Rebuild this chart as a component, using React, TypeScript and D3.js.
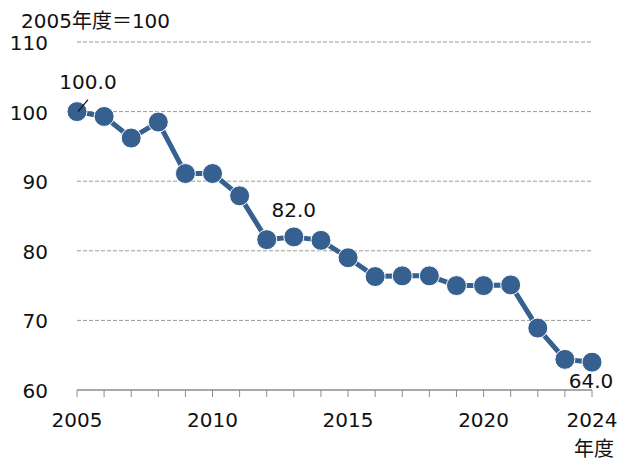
import * as d3 from 'd3'

const years = [2005, 2006, 2007, 2008, 2009, 2010, 2011, 2012, 2013, 2014, 2015, 2016, 2017, 2018, 2019, 2020, 2021, 2022, 2023, 2024]
const values = [100.0, 99.3, 96.2, 98.5, 91.1, 91.1, 87.9, 81.6, 82.0, 81.5, 79.0, 76.3, 76.4, 76.4, 75.0, 75.0, 75.1, 68.9, 64.4, 64.0]
const yTicks = [60, 70, 80, 90, 100, 110]
const xTicks = [2005, 2010, 2015, 2020, 2024]
const labelled = [2005, 2013, 2024]

const W = 619
const H = 462
const FONT = '"DejaVu Sans", Verdana, "Noto Sans CJK JP", sans-serif'
const BLUE = '#36608f'
const FS = 20

export default function App() {
  const x = d3.scaleLinear().domain([2005, 2024]).range([77, 592])
  const y = d3.scaleLinear().domain([60, 110]).range([390, 42])

  const line = d3.line<number>()
    .x((_, i) => x(years[i]))
    .y(d => y(d))

  const pts = years.map((yr, i) => ({ yr, v: values[i] }))

  return (
    <svg width={W} height={H} style={{ position: 'absolute', left: 0, top: 0 }} fontFamily={FONT}>
      <rect width={W} height={H} fill="#fff" />

      {/* gridlines */}
      {yTicks.filter(t => t > 60).map(t => (
        <line key={t} x1={x(2005)} x2={x(2024)} y1={y(t)} y2={y(t)}
          stroke="#9a9a9a" strokeWidth={1} strokeDasharray="4,2" />
      ))}

      {/* y labels */}
      {yTicks.map(t => (
        <text key={t} x={48} y={y(t) + 1} textAnchor="end" dominantBaseline="central"
          fontSize={FS} fill="#111">{t}</text>
      ))}
      <text x={21} y={28} fontSize={FS} fill="#111">2005年度＝100</text>

      {/* x axis */}
      <line x1={x(2005)} x2={x(2024)} y1={y(60)} y2={y(60)} stroke="#8c8c8c" strokeWidth={1.5} />
      {years.map(yr => (
        <line key={yr} x1={x(yr)} x2={x(yr)} y1={y(60)} y2={y(60) + 7} stroke="#8c8c8c" strokeWidth={1} />
      ))}
      {xTicks.map(t => (
        <text key={t} x={x(t)} y={427} textAnchor="middle" fontSize={FS} fill="#111">{t}</text>
      ))}
      <text x={614} y={456} textAnchor="end" fontSize={FS} fill="#111">年度</text>

      {/* series */}
      <path d={line(values) ?? ''} fill="none" stroke={BLUE} strokeWidth={5} strokeLinejoin="round" />
      {pts.map(p => (
        <circle key={p.yr} cx={x(p.yr)} cy={y(p.v)} r={10} fill={BLUE} stroke="#fff" strokeWidth={1} />
      ))}

      {/* value labels */}
      {pts.filter(p => labelled.includes(p.yr)).map(p => {
        if (p.yr === 2005) {
          return (
            <g key={p.yr}>
              <line x1={x(p.yr) + 1} y1={y(p.v)} x2={x(p.yr) + 11} y2={y(p.v) - 12} stroke="#111" strokeWidth={1.2} />
              <text x={x(p.yr) + 11} y={y(p.v) - 23} textAnchor="middle" fontSize={FS} fill="#111">{p.v.toFixed(1)}</text>
            </g>
          )
        }
        if (p.yr === 2024) {
          return (
            <text key={p.yr} x={x(p.yr) - 1} y={y(p.v) + 26} textAnchor="middle" fontSize={FS} fill="#111">{p.v.toFixed(1)}</text>
          )
        }
        return (
          <text key={p.yr} x={x(p.yr)} y={y(p.v) - 20} textAnchor="middle" fontSize={FS} fill="#111">{p.v.toFixed(1)}</text>
        )
      })}
    </svg>
  )
}
